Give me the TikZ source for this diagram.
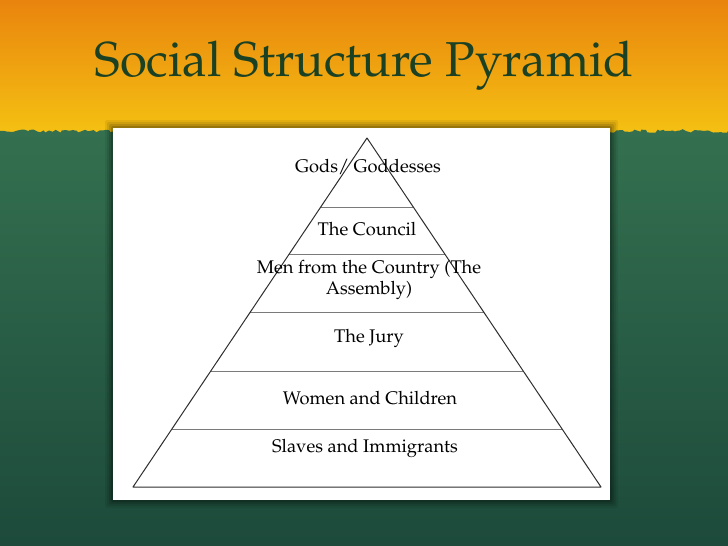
\documentclass[tikz,border=0pt]{standalone}
\usepackage[T1]{fontenc}
\usepackage{mathpazo}
\usepackage{xcolor}
\usepackage{tikz}
\usetikzlibrary{calc,decorations.pathmorphing}
\definecolor{sunorange}{HTML}{E9840E}
\definecolor{sunyellow}{HTML}{F5C412}
\definecolor{grasstop}{HTML}{3B7C56}
\definecolor{grassbot}{HTML}{1D4A3B}
\definecolor{titlegreen}{HTML}{1B4124}
\definecolor{pyrdark}{HTML}{2E2E2E}
\definecolor{pyrgray}{HTML}{7A7A7A}

\begin{document}
\begin{tikzpicture}[
    x=1pt,y=-1pt,
    lbl/.style={font=\fontsize{18.3}{21.5}\selectfont,align=center,inner sep=0pt,text=black},
    headline/.style={font=\fontsize{49}{58}\selectfont,inner sep=0pt},
    tier/.style={draw=pyrgray,line width=1.1pt},
    edge/.style={draw=pyrdark,line width=1pt,line join=round}
  ]
    \useasboundingbox (0,0) rectangle (728,546);
    % backdrop
    \shade[top color=sunorange,bottom color=sunyellow] (0,0) rectangle (728,140);
    \pgfmathsetseed{11}
    \shade[top color=grasstop,bottom color=grassbot]
      decorate[decoration={random steps,segment length=3pt,amplitude=1.8pt}]{(0,131) -- (728,131)}
      -- (728,546) -- (0,546) -- cycle;
    \node[headline,text=titlegreen] (title) at (364,66) {Social Structure Pyramid};
    % white card with soft shadow
    \foreach \s/\o in {8/0.07,6/0.09,4/0.12,2/0.16}
      \fill[black,opacity=\o,rounded corners=2pt] (113-\s,128-\s) rectangle (610+\s,500+\s);
    \fill[white] (113,128) rectangle (610,500);
    % pyramid
    \coordinate (apex) at (367,138);
    \coordinate (bl) at (133,487);
    \coordinate (br) at (601,487);
    \foreach \t in {0.198,0.335,0.501,0.668,0.834}
      \draw[tier] ($(apex)!\t!(bl)$) -- ($(apex)!\t!(br)$);
    \draw[edge] (apex) -- (bl) -- (br) -- cycle;
    \node[lbl] (gods) at (368,167) {Gods/ Goddesses};
    \node[lbl] (council) at (367,229) {The Council};
    \node[lbl] (men) at (369,280) {Men from the Country (The\\Assembly)};
    \node[lbl] (jury) at (369,338) {The Jury};
    \node[lbl] (women) at (370,398) {Women and Children};
    \node[lbl] (slaves) at (365,448) {Slaves and Immigrants};
  \end{tikzpicture}
\end{document}
